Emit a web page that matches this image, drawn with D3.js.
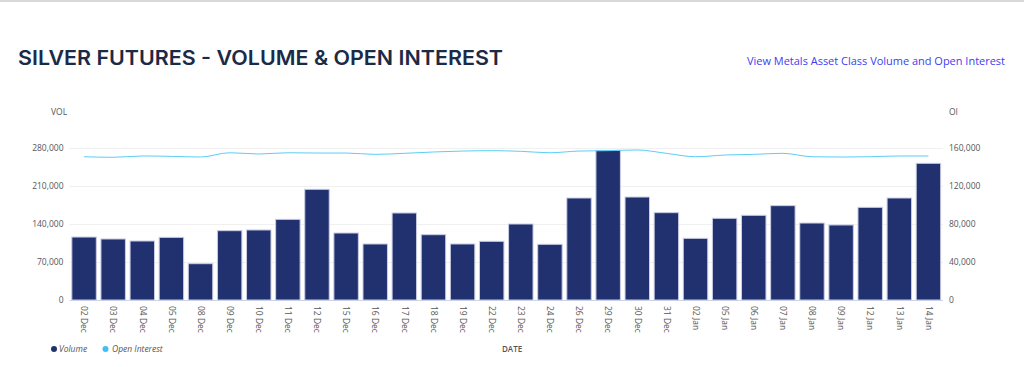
<!DOCTYPE html>
<html><head><meta charset="utf-8">
<script src="https://cdn.jsdelivr.net/npm/d3@7"></script>
<style>
html,body{margin:0;padding:0;background:#fff;overflow:hidden;}
svg{display:block;font-family:"Open Sans",sans-serif;}
</style></head>
<body>
<script>
const categories = ["02 Dec","03 Dec","04 Dec","05 Dec","08 Dec","09 Dec","10 Dec","11 Dec","12 Dec","15 Dec","16 Dec","17 Dec","18 Dec","19 Dec","22 Dec","23 Dec","24 Dec","26 Dec","29 Dec","30 Dec","31 Dec","02 Jan","05 Jan","06 Jan","07 Jan","08 Jan","09 Jan","12 Jan","13 Jan","14 Jan"];
const volume = [116000,112400,108700,115400,66900,127700,129000,148600,203900,123400,103200,160300,120300,103200,108100,140000,102600,187900,275700,189700,160900,113600,150500,156000,173800,141800,138200,170700,187900,251800];
const openInterest = [150800,150200,151600,151200,150500,155000,153700,155000,154700,154700,153300,154400,155800,156800,157200,156500,155000,156800,157200,157900,154400,150800,152600,153300,154400,150800,150500,150800,151600,151600];
const volTicks = [0,70000,140000,210000,280000];
const oiTicks = [0,40000,80000,120000,160000];

const W = 1024, H = 367;
const svg = d3.select("body").append("svg").attr("width", W).attr("height", H);

svg.append("rect").attr("x",0).attr("y",0).attr("width",W).attr("height",2).attr("fill","#d9d9d9");

svg.append("text").attr("x",18).attr("y",64.5)
  .attr("font-family","Inter, sans-serif")
  .attr("font-size",20).attr("font-weight",600).attr("fill","#1b2a47")
  .attr("textLength",485).attr("lengthAdjust","spacingAndGlyphs")
  .text("SILVER FUTURES - VOLUME & OPEN INTEREST");

svg.append("text").attr("x",1005).attr("y",65).attr("text-anchor","end")
  .attr("font-size",11.5).attr("fill","#3d3df2")
  .attr("textLength",258).attr("lengthAdjust","spacingAndGlyphs")
  .text("View Metals Asset Class Volume and Open Interest");

const pLeft = 69.5, pRight = 943, pTop = 148, pBottom = 300;
const x = d3.scaleBand().domain(categories).range([pLeft, pRight]).paddingInner(0.16).paddingOuter(0.08);
const yV = d3.scaleLinear().domain([0,280000]).range([pBottom, pTop]);
const yO = d3.scaleLinear().domain([0,160000]).range([pBottom, pTop]);

svg.append("g").selectAll("line").data(volTicks).join("line")
  .attr("x1",pLeft).attr("x2",pRight).attr("y1",d=>yV(d)+0.5).attr("y2",d=>yV(d)+0.5)
  .attr("stroke",d=>d===0?"#ccd6eb":"#f0f0f0").attr("stroke-width",1);

const la = svg.append("g").attr("transform",`translate(${pLeft-6},0)`)
  .call(d3.axisLeft(yV).tickValues(volTicks).tickFormat(d3.format(",")).tickSize(0).tickPadding(0));
la.select(".domain").remove();
la.selectAll("text").attr("font-size",8.5).attr("fill","#555").attr("font-family","Open Sans, sans-serif").attr("dy","0.32em");

const ra = svg.append("g").attr("transform",`translate(${pRight+6},0)`)
  .call(d3.axisRight(yO).tickValues(oiTicks).tickFormat(d3.format(",")).tickSize(0).tickPadding(0));
ra.select(".domain").remove();
ra.selectAll("text").attr("font-size",8.5).attr("fill","#555").attr("font-family","Open Sans, sans-serif").attr("dy","0.32em");

svg.append("text").attr("x",51).attr("y",115).attr("font-size",8.5).attr("fill","#555").text("VOL");
svg.append("text").attr("x",949).attr("y",115).attr("font-size",8.5).attr("fill","#555").text("OI");

svg.append("g").selectAll("rect").data(volume).join("rect")
  .attr("x",(d,i)=>x(categories[i]))
  .attr("y",d=>yV(d))
  .attr("width",x.bandwidth())
  .attr("height",d=>pBottom-yV(d))
  .attr("fill","#213170").attr("stroke","#c9cde3").attr("stroke-width",1);

const line = d3.line().x((d,i)=>x(categories[i])+x.bandwidth()/2).y(d=>yO(d)).curve(d3.curveMonotoneX);
svg.append("path").datum(openInterest).attr("d",line).attr("fill","none")
  .attr("stroke","#5ccdf7").attr("stroke-width",1);

const xa = svg.append("g").attr("transform",`translate(0,${pBottom})`)
  .call(d3.axisBottom(x).tickSize(0).tickPadding(0));
xa.select(".domain").remove();
xa.selectAll("text").attr("font-size",8.5).attr("fill","#555").attr("font-family","Open Sans, sans-serif")
  .attr("text-anchor","start").attr("transform","translate(0,6) rotate(90)").attr("x",0).attr("y",0).attr("dy","0.32em");

const lg = svg.append("g").attr("font-size",8.5).attr("font-style","italic").attr("fill","#555");
lg.append("circle").attr("cx",54).attr("cy",349).attr("r",3).attr("fill","#213170");
lg.append("text").attr("x",59).attr("y",352).text("Volume");
lg.append("circle").attr("cx",105.5).attr("cy",349).attr("r",3).attr("fill","#41bff5");
lg.append("text").attr("x",112).attr("y",352).text("Open Interest");

svg.append("text").attr("x",502).attr("y",351.5).attr("font-size",8).attr("font-weight",600).attr("fill","#555").text("DATE");
</script>
</body></html>
